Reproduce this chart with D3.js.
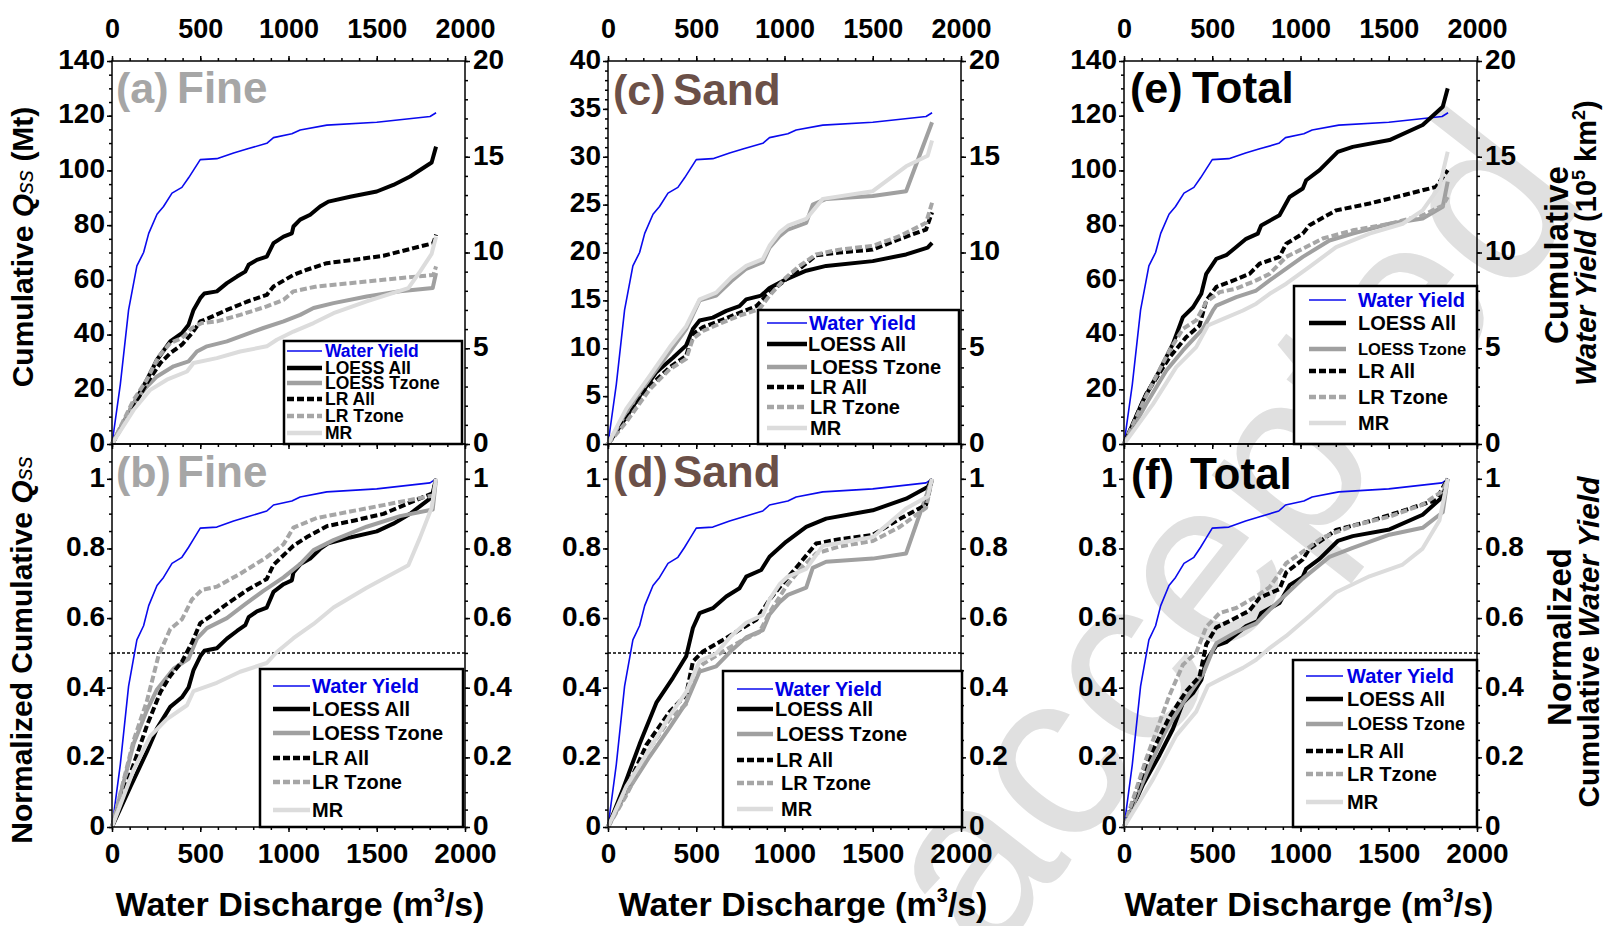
<!DOCTYPE html>
<html>
<head>
<meta charset="utf-8">
<script src="https://cdn.jsdelivr.net/npm/d3@7"></script>
<style>
body { margin: 0; background: #fff; }
svg { font-family: "Liberation Sans", Arial, sans-serif; font-weight: bold; }
</style>
</head>
<body>
<svg id="fig" width="1610" height="926"></svg>
<script>
// ==> Data <==
// water discharge (m3/s) and cumulative water yield (10^5 km2)
var wy_q = [0, 47, 94, 141, 179, 208, 255, 292, 340, 396, 434, 462, 500, 594, 689, 764, 877, 915, 1019, 1066, 1217, 1500, 1802, 1836];
var wy_v = [0, 3.1, 7.0, 9.3, 10.0, 11.0, 12.0, 12.4, 13.1, 13.4, 13.9, 14.3, 14.85, 14.9, 15.2, 15.4, 15.7, 16.0, 16.2, 16.4, 16.65, 16.8, 17.1, 17.3];

// Fine (Mt)
var fine_loessall_q = [0, 104, 198, 255, 330, 396, 434, 462, 500, 523, 594, 651, 708, 755, 774, 821, 877, 915, 972, 1019, 1028, 1066, 1123, 1179, 1226, 1349, 1500, 1594, 1689, 1811, 1836];
var fine_loessall_v = [0, 12.5, 23.5, 30.8, 37.5, 40.5, 43.6, 49, 53.3, 55, 55.8, 58.8, 61.2, 63, 65.5, 67.3, 68.5, 73.4, 75.8, 77, 79.5, 82, 83.8, 86.8, 88.6, 90.4, 92.3, 94.7, 97.8, 102.9, 108.7];
var fine_loesstz_q = [0, 123, 198, 255, 349, 434, 481, 538, 651, 755, 858, 972, 1066, 1142, 1255, 1443, 1632, 1817, 1836];
var fine_loesstz_v = [0, 15, 21, 24.7, 28.4, 30.2, 33.8, 35.7, 37.5, 40, 42.4, 44.8, 47.2, 49.7, 51.5, 53.9, 55.8, 57, 62.5];
var fine_lrall_q = [0, 123, 198, 274, 330, 396, 453, 500, 547, 651, 764, 877, 915, 1028, 1104, 1217, 1368, 1538, 1708, 1821, 1836];
var fine_lrall_v = [0, 13.8, 22.3, 29.6, 33.2, 36.3, 40.5, 44.8, 46, 49, 52, 54.5, 57.6, 61.8, 63.7, 66.1, 67.3, 68.8, 71.6, 73.4, 76.5];
var fine_lrtz_q = [0, 123, 198, 264, 330, 396, 453, 509, 594, 726, 877, 972, 1028, 1160, 1349, 1538, 1726, 1821, 1836];
var fine_lrtz_v = [0, 16.2, 23.5, 32, 36.9, 38.7, 42.4, 44.2, 44.8, 47.2, 50.3, 52.7, 55.8, 57.6, 58.8, 60, 61.2, 61.8, 64.9];
var fine_mr_q = [0, 123, 217, 311, 425, 462, 594, 726, 877, 934, 1028, 1142, 1255, 1443, 1679, 1745, 1811, 1836];
var fine_mr_v = [0, 12.5, 19.8, 23.5, 26.5, 29.6, 31.4, 33.8, 35.7, 38.1, 41.1, 44.2, 47.8, 52.1, 57, 63, 69.5, 75.8];

// Sand (Mt)
var sand_loessall_q = [0, 85, 179, 274, 368, 443, 481, 519, 594, 670, 745, 783, 868, 915, 1009, 1123, 1236, 1500, 1689, 1811, 1836];
var sand_loessall_v = [0, 2.3, 5.0, 7.5, 9.0, 10.3, 12.0, 12.9, 13.2, 13.9, 14.4, 15.1, 15.5, 16.3, 17.2, 18.1, 18.6, 19.1, 19.8, 20.5, 21.0];
var sand_loesstz_q = [0, 104, 236, 349, 443, 519, 613, 698, 783, 877, 915, 972, 1019, 1123, 1160, 1236, 1500, 1689, 1836];
var sand_loesstz_v = [0, 3.3, 6.8, 9.6, 12.0, 15.0, 15.5, 17.0, 18.3, 19.0, 20.5, 21.7, 22.4, 23.1, 25.0, 25.6, 25.9, 26.4, 33.6];
var sand_lrall_q = [0, 104, 217, 349, 443, 481, 538, 651, 745, 840, 915, 1009, 1085, 1179, 1311, 1500, 1651, 1802, 1836];
var sand_lrall_v = [0, 2.6, 5.7, 8.0, 9.2, 11.5, 12.2, 13.0, 13.7, 14.4, 15.8, 17.2, 18.3, 19.7, 20.0, 20.3, 21.4, 22.4, 24.2];
var sand_lrtz_q = [0, 104, 236, 349, 443, 481, 538, 651, 745, 858, 915, 1009, 1085, 1179, 1311, 1500, 1651, 1802, 1836];
var sand_lrtz_v = [0, 2.3, 5.7, 7.8, 8.9, 11.0, 11.8, 12.7, 13.4, 14.1, 15.5, 17.4, 18.6, 19.8, 20.3, 20.7, 21.7, 23.1, 25.2];
var sand_mr_q = [0, 104, 236, 349, 443, 519, 613, 698, 783, 877, 915, 972, 1019, 1123, 1217, 1500, 1689, 1811, 1836];
var sand_mr_v = [0, 3.7, 7.1, 10.1, 12.3, 15.1, 15.8, 17.4, 18.6, 19.3, 20.7, 22.1, 22.8, 23.5, 25.6, 26.4, 29.0, 30.1, 31.7];

// Total (Mt)
var total_loessall_q = [0, 108, 202, 277, 334, 391, 438, 466, 523, 579, 636, 692, 758, 777, 881, 938, 1013, 1032, 1108, 1211, 1296, 1504, 1692, 1806, 1834];
var total_loessall_v = [0, 15.9, 26.9, 36.6, 46.4, 50, 54.9, 62.2, 67.7, 69, 72, 75, 76.9, 79.9, 83.6, 90.3, 93.4, 96.4, 100.1, 106.8, 108.6, 111.1, 116.6, 123.3, 130];
var total_loesstz_q = [0, 126, 240, 334, 447, 504, 523, 636, 749, 825, 919, 1013, 1164, 1296, 1504, 1692, 1806, 1834];
var total_loesstz_v = [0, 14.6, 26.9, 34.2, 42.1, 48.8, 50.6, 53.7, 56.1, 59.8, 64.1, 68.4, 74.4, 76.9, 80.5, 82.4, 86.7, 95.9];
var total_lrall_q = [0, 126, 258, 353, 428, 466, 523, 598, 711, 768, 881, 919, 1013, 1051, 1202, 1391, 1579, 1768, 1834];
var total_lrall_v = [0, 18.3, 31.7, 39.1, 43.3, 52.5, 57.4, 59.2, 62.2, 65.9, 68.4, 73.2, 76.9, 80, 85.4, 87.9, 90.9, 94, 100.1];
var total_lrtz_q = [0, 126, 258, 334, 409, 466, 542, 636, 749, 825, 919, 1013, 1126, 1296, 1504, 1692, 1806, 1834];
var total_lrtz_v = [0, 17.7, 34.2, 42.1, 45.2, 51.9, 55.5, 56.8, 59.8, 62.2, 68.4, 71.4, 75.1, 78.1, 80.5, 83.6, 87.2, 90.3];
var total_mr_q = [0, 164, 296, 409, 475, 542, 674, 749, 825, 919, 1051, 1202, 1391, 1579, 1692, 1787, 1834];
var total_mr_v = [0, 14.6, 28.1, 35.4, 43.3, 45.2, 48.8, 51.3, 54.9, 58.6, 64.7, 72, 76.9, 80.5, 85.4, 94, 106.8];

var legend_labels = ['Water Yield', 'LOESS All', 'LOESS Tzone', 'LR All', 'LR Tzone', 'MR'];
var series_keys = ['wy', 'loessall', 'loesstz', 'lrall', 'lrtz', 'mr'];
var q_ticks = [0, 500, 1000, 1500, 2000];

// ==> Layout and styles <==
var svg = d3.select('#fig');
var PW = 353;

var sets = {
    fine:  { loessall: [fine_loessall_q, fine_loessall_v], loesstz: [fine_loesstz_q, fine_loesstz_v],
             lrall: [fine_lrall_q, fine_lrall_v], lrtz: [fine_lrtz_q, fine_lrtz_v], mr: [fine_mr_q, fine_mr_v] },
    sand:  { loessall: [sand_loessall_q, sand_loessall_v], loesstz: [sand_loesstz_q, sand_loesstz_v],
             lrall: [sand_lrall_q, sand_lrall_v], lrtz: [sand_lrtz_q, sand_lrtz_v], mr: [sand_mr_q, sand_mr_v] },
    total: { loessall: [total_loessall_q, total_loessall_v], loesstz: [total_loesstz_q, total_loesstz_v],
             lrall: [total_lrall_q, total_lrall_v], lrtz: [total_lrtz_q, total_lrtz_v], mr: [total_mr_q, total_mr_v] }
};

var sty = {
    wy:       { color: '#0a0aee', width: 1.6, dash: null },
    loessall: { color: '#000000', width: 4, dash: null },
    loesstz:  { color: '#a0a0a0', width: 4, dash: null },
    lrall:    { color: '#000000', width: 4, dash: '7,3' },
    lrtz:     { color: '#a6a6a6', width: 4, dash: '7,3' },
    mr:       { color: '#dcdcdc', width: 4, dash: null }
};

var panels = [
    { tag: '(a)', name: 'Fine', col: '#a6a6a6', set: 'fine', kind: 'cum', x0: 112, y0: 61, y1: 444,
      ymax: 140, lmajor: 20, lminor: 5, tagx: 116, namex: 177, basey: 103,
      leg: { x: 284, y: 341, w: 178, h: 103, rows: [351, 368, 383, 399, 416, 433], lx: [287, 322], tx: [325, 325, 325, 325, 325, 325], fs: [17.5, 17.5, 17.5, 17.5, 17.5, 17.5] } },
    { tag: '(b)', name: 'Fine', col: '#a6a6a6', set: 'fine', kind: 'norm', x0: 112, y0: 444, y1: 827,
      tagx: 116, namex: 177, basey: 487, titlex: 300,
      leg: { x: 260, y: 669, w: 203, h: 158, rows: [686, 709, 733, 758, 782, 810], lx: [273, 310], tx: [312, 312, 312, 312, 312, 312], fs: [20, 20, 20, 20, 20, 20] } },
    { tag: '(c)', name: 'Sand', col: '#6b5048', set: 'sand', kind: 'cum', x0: 608, y0: 61, y1: 444,
      ymax: 40, lmajor: 5, lminor: 1, tagx: 613, namex: 673, basey: 105,
      leg: { x: 758, y: 310, w: 201, h: 134, rows: [323, 344, 367, 387, 407, 428], lx: [767, 807], tx: [809, 808, 810, 810, 810, 810], fs: [20, 20, 20, 20, 20, 20] } },
    { tag: '(d)', name: 'Sand', col: '#6b5048', set: 'sand', kind: 'norm', x0: 608, y0: 444, y1: 827,
      tagx: 613, namex: 673, basey: 487, titlex: 803,
      leg: { x: 723, y: 671, w: 239, h: 156, rows: [689, 709, 734, 760, 783, 809], lx: [737, 773], tx: [775, 775, 776, 776, 781, 781], fs: [20, 20, 20, 20, 20, 20] } },
    { tag: '(e)', name: 'Total', col: '#000000', set: 'total', kind: 'cum', x0: 1124, y0: 61, y1: 444,
      ymax: 140, lmajor: 20, lminor: 5, tagx: 1130, namex: 1192, basey: 103,
      leg: { x: 1294, y: 286, w: 183, h: 158, rows: [300, 323, 349, 371, 397, 423], lx: [1309, 1346], tx: [1358, 1358, 1358, 1358, 1358, 1358], fs: [20, 20, 16.5, 20, 20, 20] } },
    { tag: '(f)', name: 'Total', col: '#000000', set: 'total', kind: 'norm', x0: 1124, y0: 444, y1: 827,
      tagx: 1131, namex: 1190, basey: 489, titlex: 1309,
      leg: { x: 1293, y: 660, w: 184, h: 167, rows: [676, 699, 724, 751, 774, 802], lx: [1306, 1343], tx: [1347, 1347, 1347, 1347, 1347, 1347], fs: [20, 20, 18, 20, 20, 20] } }
];

function normalized(v)
{
    var last = v[v.length - 1];
    return v.map(function(d) { return d / last; });
}

function styleaxis(ax, fs)
{
    ax.select('.domain').remove();
    ax.attr('font-size', fs).attr('font-family', null).attr('font-weight', 'bold');
    ax.selectAll('line').attr('stroke', '#000').attr('stroke-width', 1.5);
    ax.selectAll('text').attr('fill', '#000');
    return ax;
}

function fmt(d) { return String(+d.toFixed(2)); }

// watermark behind everything
svg.append('text')
    .attr('transform', 'translate(990,965) rotate(-52)')
    .attr('font-size', 240)
    .attr('font-weight', 'normal')
    .attr('fill', '#e0e0e0')
    .text('accepted');

function drawpanel(p)
{
    var g = svg.append('g').attr('id', 'panel_' + p.tag.charAt(1));
    var x = d3.scaleLinear().domain([0, 2000]).range([p.x0, p.x0 + PW]);
    var yl, yr, lmaj, lmin, rmaj, rmin;
    if(p.kind == 'cum')
    {
        yl = d3.scaleLinear().domain([0, p.ymax]).range([p.y1, p.y0]);
        yr = d3.scaleLinear().domain([0, 20]).range([p.y1, p.y0]);
        lmaj = d3.range(0, p.ymax + 0.001, p.lmajor);
        lmin = d3.range(0, p.ymax + 0.001, p.lminor);
        rmaj = [0, 5, 10, 15, 20];
        rmin = d3.range(0, 20.001, 1);
    }
    else
    {
        yl = d3.scaleLinear().domain([0, 1.1]).range([p.y1, p.y0]);
        yr = yl;
        lmaj = [0, 0.2, 0.4, 0.6, 0.8, 1];
        lmin = d3.range(0, 22).map(function(i) { return i * 0.05; });
        rmaj = lmaj;
        rmin = lmin;
    }

    // y axes
    styleaxis(g.append('g').attr('transform', 'translate(' + p.x0 + ',0)')
        .call(d3.axisLeft(yl).tickValues(lmin).tickSize(3).tickFormat('')), 28);
    styleaxis(g.append('g').attr('transform', 'translate(' + p.x0 + ',0)')
        .call(d3.axisLeft(yl).tickValues(lmaj).tickSize(5).tickPadding(2).tickFormat(fmt)), 28)
        .selectAll('text').attr('dy', '0.26em');
    styleaxis(g.append('g').attr('transform', 'translate(' + (p.x0 + PW) + ',0)')
        .call(d3.axisRight(yr).tickValues(rmin).tickSize(3).tickFormat('')), 28);
    styleaxis(g.append('g').attr('transform', 'translate(' + (p.x0 + PW) + ',0)')
        .call(d3.axisRight(yr).tickValues(rmaj).tickSize(5).tickPadding(3).tickFormat(fmt)), 28)
        .selectAll('text').attr('dy', '0.26em');

    // x axes
    var qmin = d3.range(0, 2001, 100);
    if(p.kind == 'cum')
    {
        styleaxis(g.append('g').attr('transform', 'translate(0,' + p.y0 + ')')
            .call(d3.axisTop(x).tickValues(qmin).tickSize(3).tickFormat('')), 27);
        styleaxis(g.append('g').attr('transform', 'translate(0,' + p.y0 + ')')
            .call(d3.axisTop(x).tickValues(q_ticks).tickSize(5).tickPadding(18).tickFormat(fmt)), 27);
        styleaxis(g.append('g').attr('transform', 'translate(0,' + p.y1 + ')')
            .call(d3.axisBottom(x).tickValues(qmin).tickSize(3).tickFormat('')), 27);
        styleaxis(g.append('g').attr('transform', 'translate(0,' + p.y1 + ')')
            .call(d3.axisBottom(x).tickValues(q_ticks).tickSize(5).tickFormat('')), 27);
    }
    else
    {
        styleaxis(g.append('g').attr('transform', 'translate(0,' + p.y1 + ')')
            .call(d3.axisBottom(x).tickValues(qmin).tickSize(3).tickFormat('')), 28);
        styleaxis(g.append('g').attr('transform', 'translate(0,' + p.y1 + ')')
            .call(d3.axisBottom(x).tickValues(q_ticks).tickSize(5).tickPadding(11).tickFormat(fmt)), 28);
        // half-way line
        g.append('line')
            .attr('x1', x(0)).attr('x2', x(2000))
            .attr('y1', yl(0.5)).attr('y2', yl(0.5))
            .attr('stroke', '#000').attr('stroke-width', 1.5)
            .attr('stroke-dasharray', '3,2');
    }

    // curves
    var line = d3.line().x(function(d) { return x(d[0]); });
    for(var k in series_keys)
    {
        var key = series_keys[k];
        var qq, vv, ys;
        if(key == 'wy') { qq = wy_q; vv = wy_v; ys = yr; }
        else { qq = sets[p.set][key][0]; vv = sets[p.set][key][1]; ys = yl; }
        if(p.kind == 'norm') { vv = normalized(vv); ys = yl; }
        line.y(function(d) { return ys(d[1]); });
        g.append('path')
            .datum(d3.zip(qq, vv))
            .attr('d', line)
            .attr('fill', 'none')
            .attr('stroke', sty[key].color)
            .attr('stroke-width', sty[key].width)
            .attr('stroke-dasharray', sty[key].dash)
            .attr('stroke-linejoin', 'round');
    }

    // frame
    g.append('rect')
        .attr('x', p.x0).attr('y', p.y0)
        .attr('width', PW).attr('height', p.y1 - p.y0)
        .attr('fill', 'none').attr('stroke', '#000').attr('stroke-width', 1.5);

    // panel tag
    g.append('text').attr('x', p.tagx).attr('y', p.basey)
        .attr('font-size', 43).attr('fill', p.col).text(p.tag);
    g.append('text').attr('x', p.namex).attr('y', p.basey)
        .attr('font-size', 44).attr('fill', p.col).text(p.name);

    drawlegend(g, p.leg);

    if(p.kind == 'norm')
    {
        var t = g.append('text')
            .attr('x', p.titlex).attr('y', 916)
            .attr('text-anchor', 'middle')
            .attr('font-size', 34);
        t.append('tspan').text('Water Discharge (m');
        t.append('tspan').attr('font-size', 20).attr('dy', -14).text('3');
        t.append('tspan').attr('dy', 14).text('/s)');
    }
}

function drawlegend(g, L)
{
    var lg = g.append('g').attr('class', 'legend');
    lg.append('rect')
        .attr('x', L.x).attr('y', L.y).attr('width', L.w).attr('height', L.h)
        .attr('fill', '#fff').attr('stroke', '#000').attr('stroke-width', 2.5);
    for(var i = 0; i < series_keys.length; i++)
    {
        var key = series_keys[i];
        lg.append('line')
            .attr('x1', L.lx[0]).attr('x2', L.lx[1])
            .attr('y1', L.rows[i]).attr('y2', L.rows[i])
            .attr('stroke', sty[key].color)
            .attr('stroke-width', key == 'wy' ? 1.6 : 4.5)
            .attr('stroke-dasharray', sty[key].dash);
        lg.append('text')
            .attr('x', L.tx[i]).attr('y', L.rows[i])
            .attr('dy', '0.36em')
            .attr('font-size', L.fs[i])
            .attr('fill', key == 'wy' ? '#0000e6' : '#000')
            .text(legend_labels[i]);
    }
}

panels.forEach(drawpanel);

// ==> axis titles <==
function qss(t)
{
    t.append('tspan').attr('font-style', 'italic').text('Q');
    t.append('tspan').attr('font-style', 'italic').attr('font-size', '0.8em').attr('font-weight', 'normal').text('ss');
}

var lt1 = svg.append('text')
    .attr('transform', 'translate(33,247) rotate(-90)')
    .attr('text-anchor', 'middle').attr('font-size', 30);
lt1.append('tspan').text('Cumulative ');
qss(lt1);
lt1.append('tspan').text(' (Mt)');

var lt2 = svg.append('text')
    .attr('transform', 'translate(32,650) rotate(-90)')
    .attr('text-anchor', 'middle').attr('font-size', 30);
lt2.append('tspan').text('Normalized Cumulative ');
qss(lt2);

svg.append('text')
    .attr('transform', 'translate(1568,255) rotate(-90)')
    .attr('text-anchor', 'middle').attr('font-size', 33)
    .text('Cumulative');
var rt2 = svg.append('text')
    .attr('transform', 'translate(1596,243) rotate(-90)')
    .attr('text-anchor', 'middle').attr('font-size', 29);
rt2.append('tspan').attr('font-style', 'italic').text('Water Yield');
rt2.append('tspan').text(' (10');
rt2.append('tspan').attr('font-size', 18).attr('dy', -11).text('5');
rt2.append('tspan').attr('dy', 11).text(' km');
rt2.append('tspan').attr('font-size', 18).attr('dy', -11).text('2');
rt2.append('tspan').attr('dy', 11).text(')');

svg.append('text')
    .attr('transform', 'translate(1571,637) rotate(-90)')
    .attr('text-anchor', 'middle').attr('font-size', 33)
    .text('Normalized');
var rt4 = svg.append('text')
    .attr('transform', 'translate(1599,642) rotate(-90)')
    .attr('text-anchor', 'middle').attr('font-size', 30);
rt4.append('tspan').text('Cumulative ');
rt4.append('tspan').attr('font-style', 'italic').text('Water Yield');
</script>
</body>
</html>
